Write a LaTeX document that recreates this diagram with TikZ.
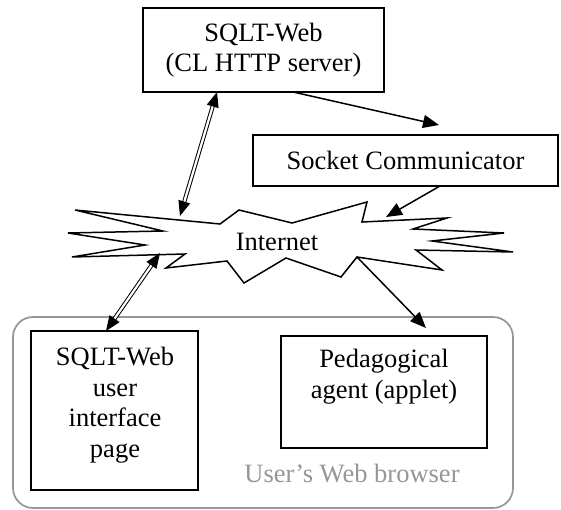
\documentclass[tikz,border=0pt]{standalone}
\usepackage{fontspec}
\setmainfont{Liberation Serif}
\usetikzlibrary{arrows.meta}
\definecolor{browsergray}{RGB}{150,150,150}
\tikzset{
  box/.style={draw=black, line width=1.7pt, fill=white, inner sep=0pt},
  lbl/.style={font=\fontsize{26.5}{30.5}\selectfont, align=center, inner sep=0pt},
  link/.style={line width=1.5pt, -{Triangle[length=16pt,width=13pt]}},
  duplex/.style={double=white, double distance=2.2pt, line width=1pt,
    {Triangle[length=15pt,width=12pt]}-{Triangle[length=15pt,width=12pt]}},
}
\begin{document}
\begin{tikzpicture}[x=1pt,y=-1pt]
\useasboundingbox (0,0) rectangle (561,510);

% browser frame
\draw[browsergray, line width=1.7pt, rounded corners=20pt] (13,317) rectangle (513,508);
\node[lbl, text=browsergray] (browser) at (352,474) {User’s Web browser};

% server side
\node[box, minimum width=241pt, minimum height=84pt] (web) at (263.5,50) {};
\node[lbl] (webtxt) at (web.center) {SQLT-Web\\(CL HTTP server)};
\node[box, minimum width=305pt, minimum height=51pt] (sock) at (405.5,160.5) {};
\node[lbl] (socktxt) at (sock.center) {Socket Communicator};

% internet cloud
\draw[line width=1.5pt, fill=white, line join=miter]
  (75,210) -- (220,224) -- (239,210) -- (292,223) -- (367,202) -- (362,222)
  -- (447,218) -- (413,229) -- (504,233) -- (432,241) -- (513,252) -- (416,250)
  -- (442,270) -- (357,257) -- (341,277) -- (286,258) -- (244,283) -- (227,261)
  -- (166,268) -- (185,254) -- (72,257) -- (145,245) -- (68,233) -- (163,231)
  -- cycle;
\node[lbl] (inet) at (277,242) {Internet};
\coordinate (inetA) at (180,216);
\coordinate (inetB) at (386,217);
\coordinate (inetC) at (160,253);
\coordinate (inetD) at (357,257);

% client side
\node[box, minimum width=167pt, minimum height=159pt] (page) at (114.5,410.5) {};
\node[lbl] (pagetxt) at (115,405) {SQLT-Web\\user\\interface\\page};
\node[box, minimum width=206pt, minimum height=112pt] (ped) at (384,392) {};
\node[lbl, anchor=north] (pedtxt) at (384,349) {Pedagogical\\agent (applet)};

% connections
\coordinate (webA) at (217,92);
\coordinate (webB) at (293,92);
\coordinate (sockA) at (439,125);
\coordinate (sockB) at (440,186);
\coordinate (pageA) at (106,331);
\coordinate (pedA) at (426,328);

\draw[link] (webB) -- (sockA);
\draw[link] (sockB) -- (inetB);
\draw[link] (inetD) -- (pedA);
\draw[duplex] (webA) -- (inetA);
\draw[duplex] (inetC) -- (pageA);
\end{tikzpicture}
\end{document}
